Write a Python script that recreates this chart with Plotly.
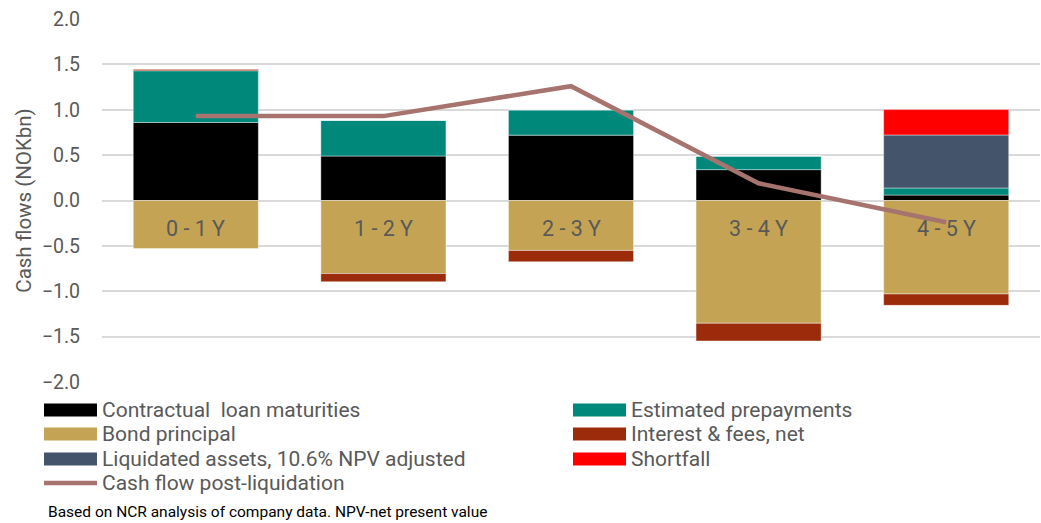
import plotly.graph_objects as go

categories = ["0 - 1 Y", "1 - 2 Y", "2 - 3 Y", "3 - 4 Y", "4 - 5 Y"]

contractual = [0.86, 0.49, 0.72, 0.34, 0.06]
prepayments = [0.57, 0.395, 0.28, 0.15, 0.078]
bond_principal = [-0.53, -0.805, -0.55, -1.353, -1.03]
interest_fees = [0.02, -0.09, -0.125, -0.195, -0.125]
liquidated = [0, 0, 0, 0, 0.584]
shortfall = [0, 0, 0, 0, 0.28]
cash_flow_post = [0.93, 0.93, 1.26, 0.19, -0.24]

bar_series = [
    ("Contractual  loan maturities", contractual, "#000000"),
    ("Estimated prepayments", prepayments, "#00897B"),
    ("Bond principal", bond_principal, "#C4A454"),
    ("Interest & fees, net", interest_fees, "#9B2B0B"),
    ("Liquidated assets, 10.6% NPV adjusted", liquidated, "#44546A"),
    ("Shortfall", shortfall, "#FF0000"),
]
line_name = "Cash flow post-liquidation"
line_color = "#A6736E"

FONT = "Roboto, Liberation Sans, Arial"
fig = go.Figure()
for name, vals, col in bar_series:
    fig.add_trace(go.Bar(
        x=categories, y=vals, name=name, marker_color=col,
        marker_line=dict(color="rgba(255,255,255,0.7)", width=0.6),
        showlegend=False,
    ))
fig.add_trace(go.Scatter(
    x=categories, y=cash_flow_post, name=line_name, mode="lines",
    line=dict(color=line_color, width=4.5), showlegend=False,
))

# category labels inside bond bars
for c in categories:
    fig.add_annotation(x=c, y=-0.31, xref="x", yref="y", text=c, showarrow=False,
                       font=dict(family=FONT, size=21.5, color="#595959"))

# custom legend (two columns)
legend_items = [(n, col, "bar") for n, _, col in bar_series] + [(line_name, line_color, "line")]
col_x = [44, 573]
row_y = [410, 434, 459, 483]
W, H = 1041, 523
for i, (name, col, kind) in enumerate(legend_items):
    cx = col_x[i % 2]
    cy = row_y[i // 2]
    if kind == "bar":
        fig.add_shape(type="rect", xref="paper", yref="paper",
                      x0=(cx - 102) / 938, x1=(cx + 53 - 102) / 938,
                      y0=(382 - (cy + 6.5)) / 363, y1=(382 - (cy - 6.5)) / 363,
                      fillcolor=col, line=dict(width=0))
    else:
        fig.add_shape(type="line", xref="paper", yref="paper",
                      x0=(cx - 102) / 938, x1=(cx + 53 - 102) / 938,
                      y0=(382 - cy) / 363, y1=(382 - cy) / 363,
                      line=dict(color=col, width=4.5))
    fig.add_annotation(xref="paper", yref="paper", x=(cx + 56 - 102) / 938,
                       y=(382 - cy) / 363, xanchor="left", yanchor="middle",
                       text=name, showarrow=False,
                       font=dict(family=FONT, size=21, color="#595959"))

fig.add_annotation(xref="paper", yref="paper", x=(46 - 102) / 938, y=(382 - 512) / 363,
                   xanchor="left", yanchor="middle", showarrow=False,
                   text="Based on NCR analysis of company data. NPV-net present value",
                   font=dict(family=FONT, size=15.5, color="#000000"))

fig.update_layout(
    width=W, height=H,
    margin=dict(l=102, r=1, t=19, b=141),
    barmode="relative", bargap=0.333,
    plot_bgcolor="white", paper_bgcolor="white",
    showlegend=False,
    font=dict(family=FONT),
)
fig.update_xaxes(showticklabels=False, showgrid=False, zeroline=False, showline=False)
fig.update_yaxes(range=[-2, 2], dtick=0.5, tickformat=".1f",
                 showgrid=True, gridcolor="#D9D9D9", gridwidth=1.5,
                 zeroline=False, showline=False,
                 tickfont=dict(family=FONT, size=19.5, color="#595959"),
                 ticklabelstandoff=21,
                 title=dict(text="Cash flows (NOKbn)", font=dict(family=FONT, size=20.5, color="#595959"), standoff=4))

fig.write_html("out.html", config={"displayModeBar": False},
               post_script="document.body.style.margin='0';document.body.style.overflow='hidden';")
